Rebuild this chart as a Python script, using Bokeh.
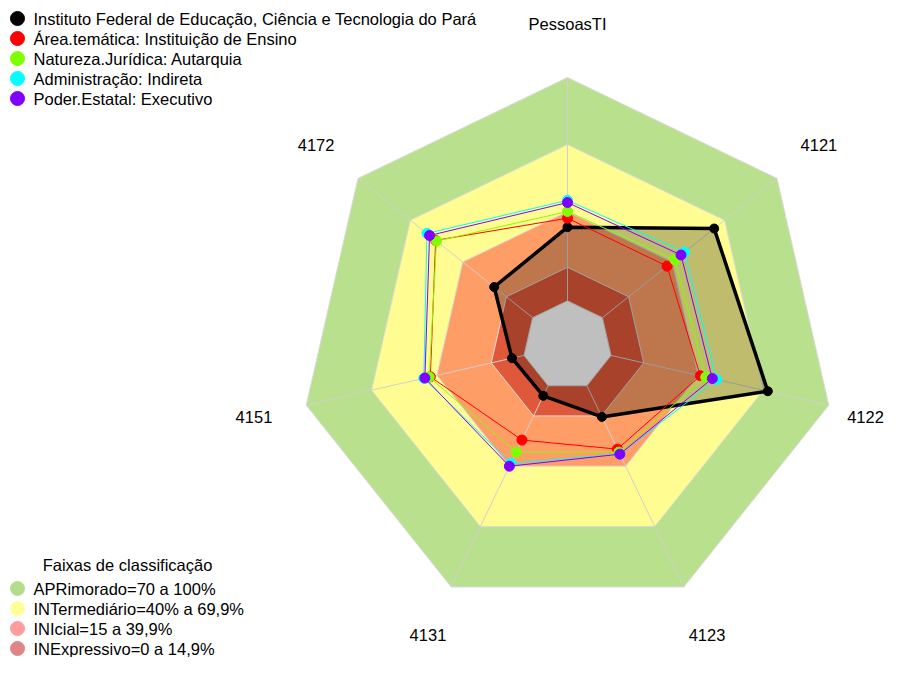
import numpy as np
from bokeh.plotting import figure
from bokeh.models import Range1d
from bokeh.embed import file_html
from bokeh.resources import INLINE
from bokeh.core.properties import value

# ---------------- data ----------------
axes_labels = ["PessoasTI", "4121", "4122", "4123", "4131", "4151", "4172"]

series_labels = [
    "Instituto Federal de Educação, Ciência e Tecnologia do Pará",
    "Área.temática: Instituição de Ensino",
    "Natureza.Jurídica: Autarquia",
    "Administração: Indireta",
    "Poder.Estatal: Executivo",
]
ifpa = [33, 64, 72, 15.5, 5, 5.5, 22]
area_tematica = [37, 37, 41, 31.5, 27, 43, 55.5]
natureza_juridica = [40, 41.5, 43.5, 33, 33, 43.5, 55]
administracao = [45, 47, 48.5, 34, 38.5, 46, 60.5]
poder_estatal = [44, 45, 46.5, 34, 40, 45.5, 59]
series_values = [ifpa, area_tematica, natureza_juridica, administracao, poder_estatal]
series_colors = ["#000000", "#ff0000", "#80ff00", "#00ffff", "#8000ff"]

band_title = "Faixas de classificação"
band_labels = ["APRimorado=70 a 100%", "INTermediário=40% a 69,9%",
               "INIcial=15 a 39,9%", "INExpressivo=0 a 14,9%"]
band_legend_colors = ["#b5dc8c", "#ffff99", "#ff9c9c", "#e08585"]
band_limits = [100, 70, 40, 15, 0]
band_fill_colors = ["#b9e08d", "#fffc92", "#fe9e66", "#e0583a", "#ffffff"]

# ---------------- geometry ----------------
N = len(axes_labels)
theta = np.pi / 2 - np.arange(N) * 2 * np.pi / N
CX, CY, R = 567, 345, 268


def radius(vals):
    return (1 / 6 + 5 / 6 * np.asarray(vals, dtype=float) / 100) * R


def pts(vals):
    r = radius(vals)
    return CX + r * np.cos(theta), CY - r * np.sin(theta)


FONT = value("Liberation Sans")
FS = "16.5px"

W, H = 884, 657
p = figure(width=W, height=H, x_range=Range1d(0, W), y_range=Range1d(H, 0),
           output_backend="svg", toolbar_location=None,
           x_axis_type=None, y_axis_type=None,
           min_border=0, min_border_left=0, min_border_right=0,
           min_border_top=0, min_border_bottom=0)
p.grid.visible = False
p.outline_line_color = None
p.background_fill_color = "white"
p.border_fill_color = "white"

# bands
for lim, col in zip(band_limits, band_fill_colors):
    xs, ys = pts([lim] * N)
    p.patch(list(xs), list(ys), fill_color=col, line_color="#d9d9d9", line_width=1)

# spokes
x0, y0 = pts([0] * N)
x1, y1 = pts([100] * N)
p.segment(x0=list(x0), y0=list(y0), x1=list(x1), y1=list(y1),
          line_color="#d0d0d0", line_width=1)

# series
for i, (vals, col) in enumerate(zip(series_values, series_colors)):
    xs, ys = pts(vals)
    if i == 0:
        p.patch(list(xs), list(ys), fill_color="black", fill_alpha=0.25,
                line_color="black", line_width=3.5)
        p.scatter(list(xs), list(ys), size=9, color="black")
    else:
        p.patch(list(xs), list(ys), fill_alpha=0, line_color=col, line_width=1)
        p.scatter(list(xs), list(ys), size=10, color=col)

# axis labels
lx, ly = CX + 1.2 * R * np.cos(theta), CY - 1.2 * R * np.sin(theta)
lx = np.minimum(lx, W - 19)  # keep the right-most label inside the canvas
p.text(x=list(lx), y=list(ly), text=axes_labels, text_font=FONT,
       text_font_size=FS, text_align="center", text_baseline="middle",
       text_color="black")

# series legend (top-left)
leg_y = [18 + 20 * i for i in range(len(series_labels))]
p.scatter([17] * len(leg_y), leg_y, size=14, color=series_colors)
p.text(x=[33] * len(leg_y), y=leg_y, text=series_labels, text_font=FONT,
       text_font_size=FS, text_align="left", text_baseline="middle",
       text_color="black")

# band legend (bottom-left)
p.text(x=[127], y=[564], text=[band_title], text_font=FONT, text_font_size=FS,
       text_align="center", text_baseline="middle", text_color="black")
bl_y = [588 + 20 * i for i in range(len(band_labels))]
p.scatter([17] * len(bl_y), bl_y, size=14, color=band_legend_colors)
p.text(x=[33] * len(bl_y), y=bl_y, text=band_labels, text_font=FONT,
       text_font_size=FS, text_align="left", text_baseline="middle",
       text_color="black")

open("out.html", "w").write(file_html(p, INLINE))
